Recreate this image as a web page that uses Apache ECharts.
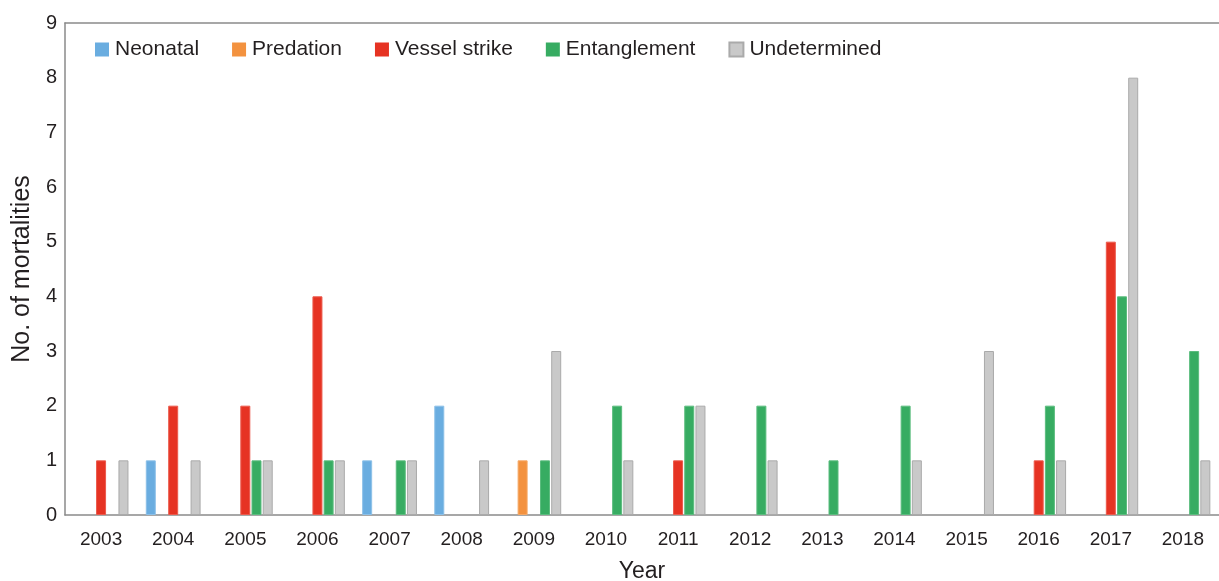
<!DOCTYPE html>
<html>
<head>
<meta charset="utf-8">
<script src="https://cdn.jsdelivr.net/npm/echarts@6/dist/echarts.min.js"></script>
<style>html,body{margin:0;padding:0;background:#fff;}#c{width:1219px;height:581px;}</style>
</head>
<body>
<div id="c"></div>
<script>
var years = ['2003','2004','2005','2006','2007','2008','2009','2010','2011','2012','2013','2014','2015','2016','2017','2018'];
var neonatal     = [0,1,0,0,1,2,0,0,0,0,0,0,0,0,0,0];
var predation    = [0,0,0,0,0,0,1,0,0,0,0,0,0,0,0,0];
var vesselStrike = [1,2,2,4,0,0,0,0,1,0,0,0,0,1,5,0];
var entanglement = [0,0,1,1,1,0,1,2,2,2,1,2,0,2,4,3];
var undetermined = [1,1,1,1,1,1,3,1,2,1,0,1,3,1,8,1];
var yTicks = [0,1,2,3,4,5,6,7,8,9];

function nz(a){ return a.map(function(v){ return v === 0 ? '-' : v; }); }

var font = 'Liberation Sans, Arial, Helvetica, sans-serif';
var txt = '#231f20';
var axisCol = '#8a8a8a';

function mk(name, data, color, border){
  return {
    name: name, type: 'bar', data: nz(data), barWidth: 10, barGap: '12%',
    itemStyle: { color: color, borderColor: border, borderWidth: 1 }
  };
}

var chart = echarts.init(document.getElementById('c'));
chart.setOption({
  animation: false,
  textStyle: { fontFamily: font },
  grid: { left: 65, right: 0, top: 23, bottom: 66, containLabel: false, outerBoundsMode: 'none' },
  legend: {
    left: 90, top: 34, itemWidth: 14, itemHeight: 14, itemGap: 33, icon: 'rect',
    textStyle: { fontSize: 21, color: txt, fontFamily: font, padding: [0,0,0,1] },
    data: [
      { name: 'Neonatal', itemStyle: { borderWidth: 0 } },
      { name: 'Predation', itemStyle: { borderWidth: 0 } },
      { name: 'Vessel strike', itemStyle: { borderWidth: 0 } },
      { name: 'Entanglement', itemStyle: { borderWidth: 0 } },
      { name: 'Undetermined' }
    ]
  },
  xAxis: [{
    type: 'category', data: years, position: 'bottom',
    axisLine: { lineStyle: { color: axisCol, width: 1.5 } },
    axisTick: { show: false },
    axisLabel: { fontSize: 19, color: txt, margin: 15, fontFamily: font },
    name: 'Year', nameLocation: 'middle', nameGap: 45,
    nameTextStyle: { fontSize: 23, color: txt, fontFamily: font }
  }, {
    type: 'category', data: years, position: 'top',
    axisLine: { lineStyle: { color: axisCol, width: 1.5 } },
    axisTick: { show: false }, axisLabel: { show: false }
  }],
  yAxis: {
    type: 'value', min: yTicks[0], max: yTicks[yTicks.length-1], interval: 1,
    axisLine: { show: true, lineStyle: { color: axisCol, width: 1.5 } },
    axisTick: { show: false },
    splitLine: { show: false },
    axisLabel: { fontSize: 20, color: txt, margin: 8, fontFamily: font },
    name: 'No. of mortalities', nameLocation: 'middle', nameGap: 30, nameRotate: 90,
    nameTextStyle: { fontSize: 25, color: txt, fontFamily: font }
  },
  series: [
    mk('Neonatal', neonatal, '#6aade0', '#8cc0e8'),
    mk('Predation', predation, '#f3923f', '#f5a866'),
    mk('Vessel strike', vesselStrike, '#e63323', '#ec5a4c'),
    mk('Entanglement', entanglement, '#37ac62', '#5bbc7e'),
    mk('Undetermined', undetermined, '#c9c9c9', '#aaaaaa')
  ]
});
</script>
</body>
</html>
